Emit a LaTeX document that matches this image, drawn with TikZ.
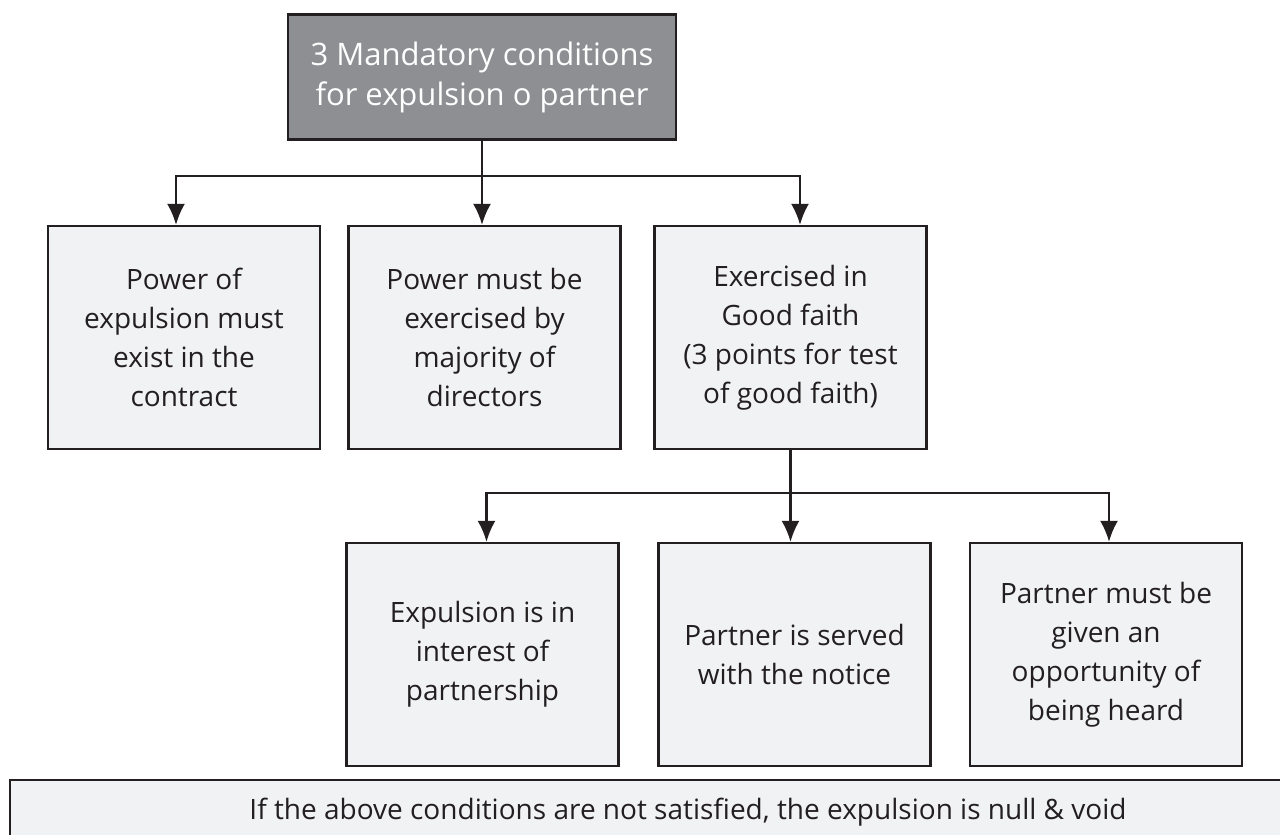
\documentclass[tikz,border=0pt]{standalone}
\usepackage{fontspec}
\setmainfont{Open Sans}
\usetikzlibrary{arrows.meta}

\definecolor{boxfill}{HTML}{F1F2F4}
\definecolor{headfill}{HTML}{8E8F93}
\definecolor{ink}{HTML}{231F20}

\begin{document}
\begin{tikzpicture}[x=0.5pt, y=-0.5pt,
      box/.style = {shape=rectangle, draw=ink, line width=1.2pt,
        fill=boxfill, text=ink, align=center, inner sep=0pt,
        font=\fontsize{14}{19.5}\selectfont},
      cond/.style = {box, minimum width=136pt, minimum height=111.5pt},
      head/.style = {box, fill=headfill, text=white,
        minimum width=194pt, minimum height=62.5pt,
        font=\fontsize{15.5}{20}\selectfont},
      link/.style = {draw=ink, line width=1.1pt},
      arr/.style = {link, -{Latex[length=10.5pt,width=9pt]}}]
  \useasboundingbox (0,0) rectangle (1280,835);

  \node[head] (top) at (482,77) {3 Mandatory conditions\\for expulsion o partner};

  \node[cond] (exist)    at (184,337.5) {Power of\\expulsion must\\exist in the\\contract};
  \node[cond] (majority) at (484.5,337.5) {Power must be\\exercised by\\majority of\\directors};
  \node[cond] (faith)    at (790.5,337.5) {Exercised in\\Good faith\\(3 points for test\\of good faith)};

  \node[cond] (interest) at (482.5,654.5) {Expulsion is in\\interest of\\partnership};
  \node[cond] (notice)   at (794.5,654.5) {Partner is served\\with the notice};
  \node[cond] (heard)    at (1106,654.5) {Partner must be\\given an\\opportunity of\\being heard};

  \node[box, minimum width=678pt, minimum height=32.5pt] (void) at (688,812.5)
    {If the above conditions are not satisfied, the expulsion is null \& void};

  % first level
  \draw[link] (top.south) -- (top.south |- 0,176) coordinate (bar1);
  \draw[arr] (bar1) -| ([xshift=-4pt]exist.north);
  \draw[arr] (bar1) -- (bar1 |- majority.north);
  \draw[arr] (bar1) -| ([xshift=4.75pt]faith.north);

  % second level
  \draw[link] (faith.south) -- (faith.south |- 0,493) coordinate (bar2);
  \draw[arr] (bar2) -| ([xshift=2pt]interest.north);
  \draw[arr] (bar2) -- (bar2 |- notice.north);
  \draw[arr] (bar2) -| ([xshift=1.5pt]heard.north);
\end{tikzpicture}
\end{document}
